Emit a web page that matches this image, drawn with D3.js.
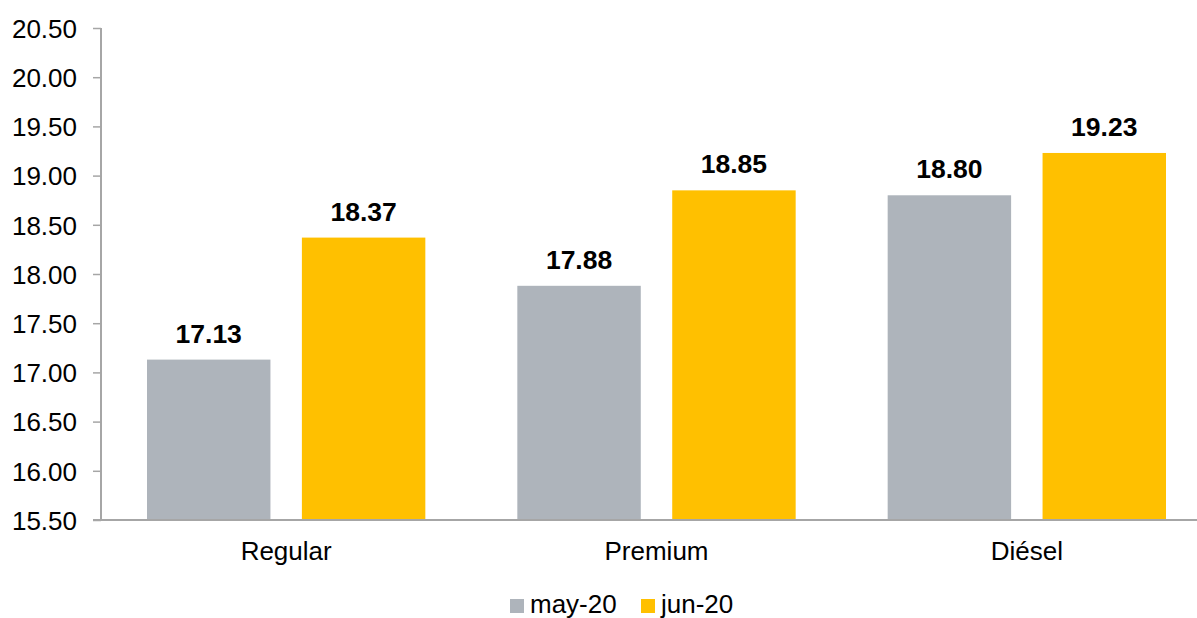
<!DOCTYPE html>
<html><head><meta charset="utf-8">
<script src="https://d3js.org/d3.v7.min.js"></script>
<style>html,body{margin:0;padding:0;background:#fff;overflow:hidden}svg{display:block;font-family:"Liberation Sans",Arial,sans-serif}</style>
</head><body>
<svg id="chart" width="1197" height="618"></svg>
<script>
const categories = ["Regular", "Premium", "Diésel"];
const seriesNames = ["may-20", "jun-20"];
const may20 = [17.13, 17.88, 18.80];
const jun20 = [18.37, 18.85, 19.23];
const yTicks = [15.5, 16, 16.5, 17, 17.5, 18, 18.5, 19, 19.5, 20, 20.5];
const colors = ["#aeb4bb", "#ffc000"];

(function () {
const svg = d3.select("#chart");
const mLeft = 101, mRight = 1212, mTop = 28, mBottom = 520;

const x = d3.scaleBand().domain(categories).range([mLeft, mRight]).paddingInner(0).paddingOuter(0);
const x1 = d3.scaleBand().domain(seriesNames).range([46, x.bandwidth() - 46]).paddingInner(0.203);
const y = d3.scaleLinear().domain([15.5, 20.5]).range([mBottom, mTop]);

const rows = categories.map((c, i) => ({cat: c, vals: [may20[i], jun20[i]]}));

const g = svg.append("g");
rows.forEach(r => {
  r.vals.forEach((v, j) => {
    g.append("rect")
      .attr("x", x(r.cat) + x1(seriesNames[j]))
      .attr("y", y(v))
      .attr("width", x1.bandwidth())
      .attr("height", y(15.5) - y(v))
      .attr("fill", colors[j]);
    g.append("text")
      .attr("x", x(r.cat) + x1(seriesNames[j]) + x1.bandwidth() / 2)
      .attr("y", y(v) - 17)
      .attr("text-anchor", "middle")
      .attr("font-weight", "bold")
      .attr("font-size", 26.5)
      .attr("fill", "#000")
      .text(v.toFixed(2));
  });
});

const yAxis = d3.axisLeft(y).tickValues(yTicks).tickFormat(d3.format(".2f")).tickSize(8).tickPadding(16);
const ya = svg.append("g").attr("transform", `translate(${mLeft},0)`).call(yAxis);
ya.select(".domain").attr("stroke", "#a6a6a6").attr("stroke-width", 2).attr("d", `M0,${mTop}V${mBottom}`);
ya.selectAll(".tick line").attr("stroke", "#a6a6a6").attr("stroke-width", 1.5);
ya.selectAll(".tick text").attr("font-size", 26).attr("fill", "#000").attr("font-family", "Liberation Sans, Arial, sans-serif").attr("dy", "0.36em");

const xAxis = d3.axisBottom(x).tickSize(0).tickPadding(22);
const xa = svg.append("g").attr("transform", `translate(0,${mBottom})`).call(xAxis);
xa.select(".domain").attr("stroke", "#a6a6a6").attr("stroke-width", 2).attr("d", `M${mLeft - 8},0H${mRight}`);
xa.selectAll(".tick text").attr("font-size", 26).attr("fill", "#000").attr("font-family", "Liberation Sans, Arial, sans-serif");

const legend = svg.append("g");
const legX = [510, 641];
seriesNames.forEach((s, i) => {
  legend.append("rect").attr("x", legX[i]).attr("y", 599).attr("width", 14).attr("height", 14).attr("fill", colors[i]);
  legend.append("text").attr("x", legX[i] + 20).attr("y", 613).attr("font-size", 26).attr("fill", "#000").text(s);
});
})();
</script>
</body></html>
